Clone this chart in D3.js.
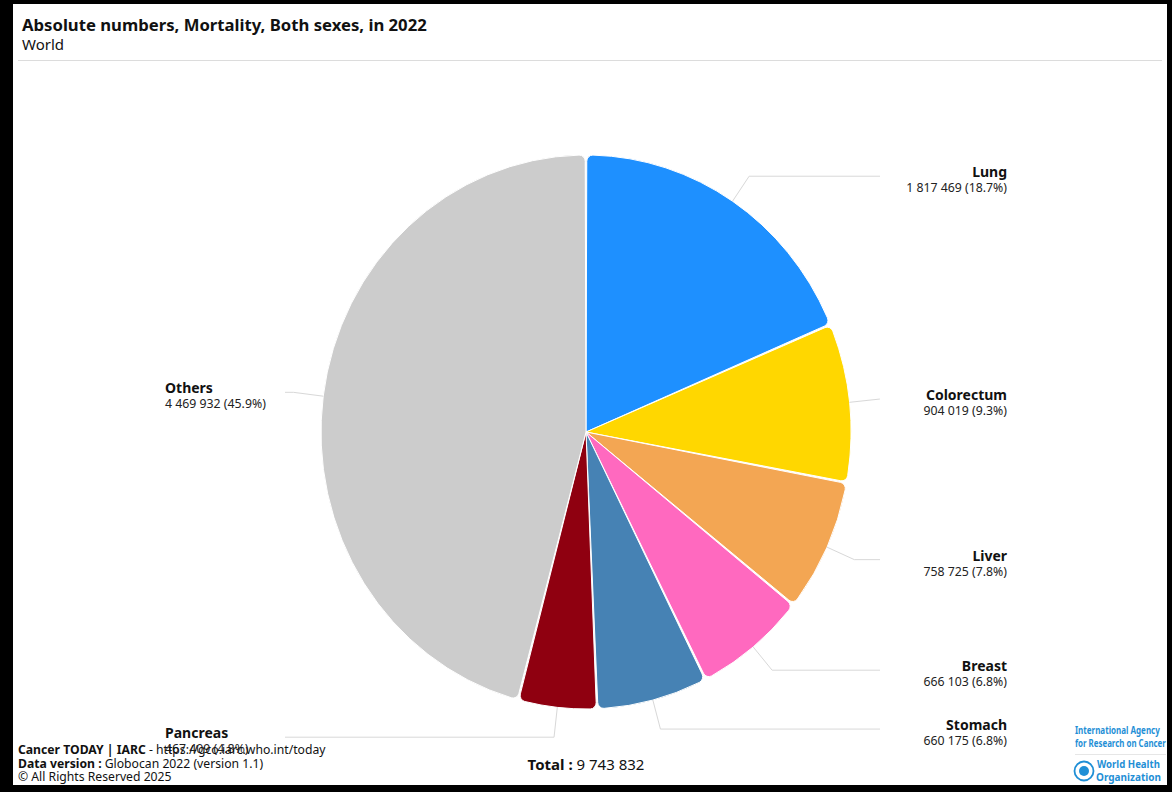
<!DOCTYPE html>
<html>
<head>
<meta charset="utf-8">
<script src="https://cdn.jsdelivr.net/npm/d3@7"></script>
<style>
  html, body { margin: 0; padding: 0; background: #000; }
  svg { display: block; }
  text { font-family: "Noto Sans", "Open Sans", sans-serif; }
</style>
</head>
<body>
<script>
// cancer sites, clockwise from 12 o'clock
const sites = ["Lung", "Colorectum", "Liver", "Breast", "Stomach", "Pancreas", "Others"];
const deaths = [1817469, 904019, 758725, 666103, 660175, 467409, 4469932];
const colours = ["#1e90ff", "#ffd700", "#f3a653", "#ff69bf", "#4682b4", "#8f0010", "#cccccc"];

const titleText = "Absolute numbers, Mortality, Both sexes, in 2022";
const subtitleText = "World";

const width = 1172, height = 792;
const cx = 586, cy = 432;
const rx = 265, ry = 277;   // picture is slightly squashed sideways

const total = d3.sum(deaths);
const fmt = d3.formatLocale({decimal: ".", thousands: " ", grouping: [3], currency: ["", ""]}).format(",d");

const svg = d3.select("body").append("svg")
  .attr("width", width)
  .attr("height", height);

// white card inside black frame
svg.append("rect")
  .attr("x", 13).attr("y", 4)
  .attr("width", 1154).attr("height", 781)
  .attr("fill", "#fff");

// title
svg.append("text")
  .attr("x", 22).attr("y", 31)
  .attr("font-size", 16.7).attr("font-weight", "bold").attr("fill", "#111")
  .text(titleText);
svg.append("text")
  .attr("x", 22).attr("y", 50)
  .attr("font-size", 15).attr("fill", "#111")
  .text(subtitleText);
svg.append("line")
  .attr("x1", 18).attr("x2", 1162)
  .attr("y1", 60.5).attr("y2", 60.5)
  .attr("stroke", "#dcdcdc");

const pie = d3.pie().sort(null).value(d => d);
const arcs = pie(deaths);

const arc = d3.arc()
  .innerRadius(0)
  .outerRadius(rx)
  .cornerRadius(6)
  .padAngle(0.006);

const g = svg.append("g")
  .attr("transform", `translate(${cx},${cy}) scale(1,${ry / rx})`);

g.selectAll("path")
  .data(arcs)
  .join("path")
  .attr("d", arc)
  .attr("fill", (d, i) => colours[i])
  .attr("stroke", "#fff")
  .attr("stroke-width", 1)
  .attr("vector-effect", "non-scaling-stroke");

// point on the (elliptic) rim, pushed out by extra px
function rim(a, extra) {
  return [cx + (rx + extra) * Math.sin(a), cy - (ry + extra) * Math.cos(a)];
}

const labels = svg.append("g");

arcs.forEach(function(d, i) {
  const a = (d.startAngle + d.endAngle) / 2;
  const right = Math.sin(a) > 0;
  const p0 = rim(a, 0);
  const p1 = rim(a, 30);
  const p2 = [right ? 880 : 285, p1[1]];

  labels.append("path")
    .attr("d", d3.line()([p0, p1, p2]))
    .attr("fill", "none")
    .attr("stroke", "#d8d8d8")
    .attr("stroke-width", 1);

  const tx = right ? 1007 : 165;
  const anchor = right ? "end" : "start";
  labels.append("text")
    .attr("x", tx).attr("y", p1[1] + 1)
    .attr("text-anchor", anchor)
    .attr("font-size", 14).attr("font-weight", "bold").attr("fill", "#111")
    .text(sites[i]);
  labels.append("text")
    .attr("x", tx).attr("y", p1[1] + 16)
    .attr("text-anchor", anchor)
    .attr("font-size", 12.3).attr("fill", "#222")
    .text(fmt(deaths[i]) + " (" + (deaths[i] / total * 100).toFixed(1) + "%)");
});

// total
const tot = svg.append("text")
  .attr("x", cx).attr("y", 770)
  .attr("text-anchor", "middle")
  .attr("font-size", 15).attr("fill", "#111");
tot.append("tspan").attr("font-weight", "bold").text("Total : ");
tot.append("tspan").text(fmt(total));

// footer
const foot = svg.append("g").attr("font-size", 12.2).attr("fill", "#111");
const f1 = foot.append("text").attr("x", 18).attr("y", 754);
f1.append("tspan").attr("font-weight", "bold").text("Cancer TODAY | IARC");
f1.append("tspan").text(" - https://gco.iarc.who.int/today");
const f2 = foot.append("text").attr("x", 18).attr("y", 768);
f2.append("tspan").attr("font-weight", "bold").text("Data version : ");
f2.append("tspan").text("Globocan 2022 (version 1.1)");
foot.append("text").attr("x", 18).attr("y", 781).text("© All Rights Reserved 2025");

// logos: condensed text, squeezed to the width it has in the picture
function squeezed(x, y, size, w, str) {
  const t = svg.append("g")
    .append("text")
    .attr("y", y).attr("font-size", size)
    .attr("font-weight", "bold").attr("fill", "#1f8fd6")
    .text(str);
  const k = w / t.node().getComputedTextLength();
  d3.select(t.node().parentNode).attr("transform", `translate(${x},0) scale(${k},1)`);
}
squeezed(1075, 734, 10, 85, "International Agency");
squeezed(1075, 747, 10, 91, "for Research on Cancer");
svg.append("line")
  .attr("x1", 1075).attr("x2", 1166).attr("y1", 754.5).attr("y2", 754.5)
  .attr("stroke", "#e6e6e6");
svg.append("circle")
  .attr("cx", 1084).attr("cy", 771).attr("r", 9.5)
  .attr("fill", "none").attr("stroke", "#1f8fd6").attr("stroke-width", 1.8);
svg.append("circle")
  .attr("cx", 1084).attr("cy", 771).attr("r", 5)
  .attr("fill", "#1f8fd6");
squeezed(1097, 768, 10.5, 63, "World Health");
squeezed(1096, 781, 10.5, 65, "Organization");
</script>
</body>
</html>
